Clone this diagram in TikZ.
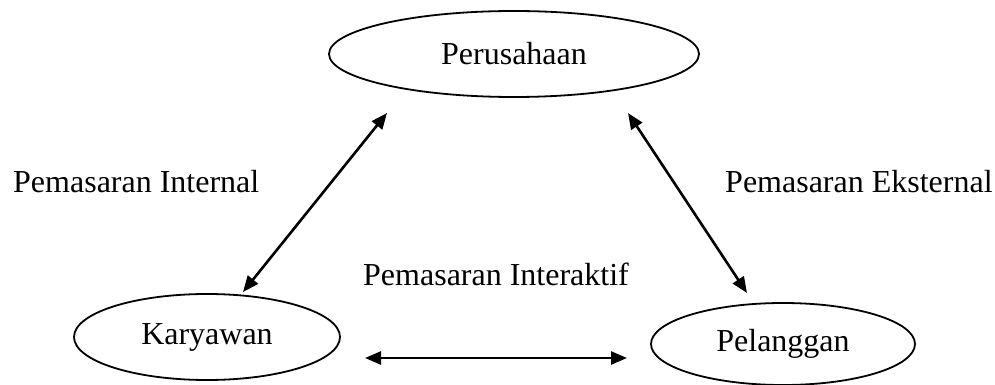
\documentclass[tikz,border=0pt]{standalone}
\usepackage{fontspec}
\setmainfont{Liberation Serif}
\usetikzlibrary{shapes.geometric,arrows.meta}
\begin{document}
\begin{tikzpicture}[x=1pt,y=-1pt,
  every node/.style={font=\fontsize{32}{38}\selectfont},
  entity/.style={ellipse,draw,line width=1.8pt,inner sep=0pt},
  lbl/.style={inner sep=0pt,anchor=base west},
  conn/.style={line width=2.6pt,{Triangle[length=16pt,width=13pt]}-{Triangle[length=16pt,width=13pt]}}]
\useasboundingbox[fill=white] (0,0) rectangle (995,385);
\node[entity,minimum width=370pt,minimum height=86pt] (per) at (514,54) {Perusahaan};
\node[entity,minimum width=266pt,minimum height=86pt] (kar) at (207,337) {Karyawan};
\node[entity,minimum width=264pt,minimum height=82pt] (pel) at (783,344) {Pelanggan};
\node[lbl] (lint) at (13,192) {Pemasaran Internal};
\node[lbl] (leks) at (725,192) {Pemasaran Eksternal};
\node[lbl] (lita) at (363,285) {Pemasaran Interaktif};
\coordinate (kt) at (243,292);
\coordinate (pl) at (387,113);
\coordinate (pr) at (628,113);
\coordinate (lt) at (747,293);
\coordinate (kr) at (365,358);
\coordinate (ll) at (627,358);
\draw[conn] (kt) -- (pl);
\draw[conn] (pr) -- (lt);
\draw[conn] (kr) -- (ll);
\end{tikzpicture}
\end{document}
